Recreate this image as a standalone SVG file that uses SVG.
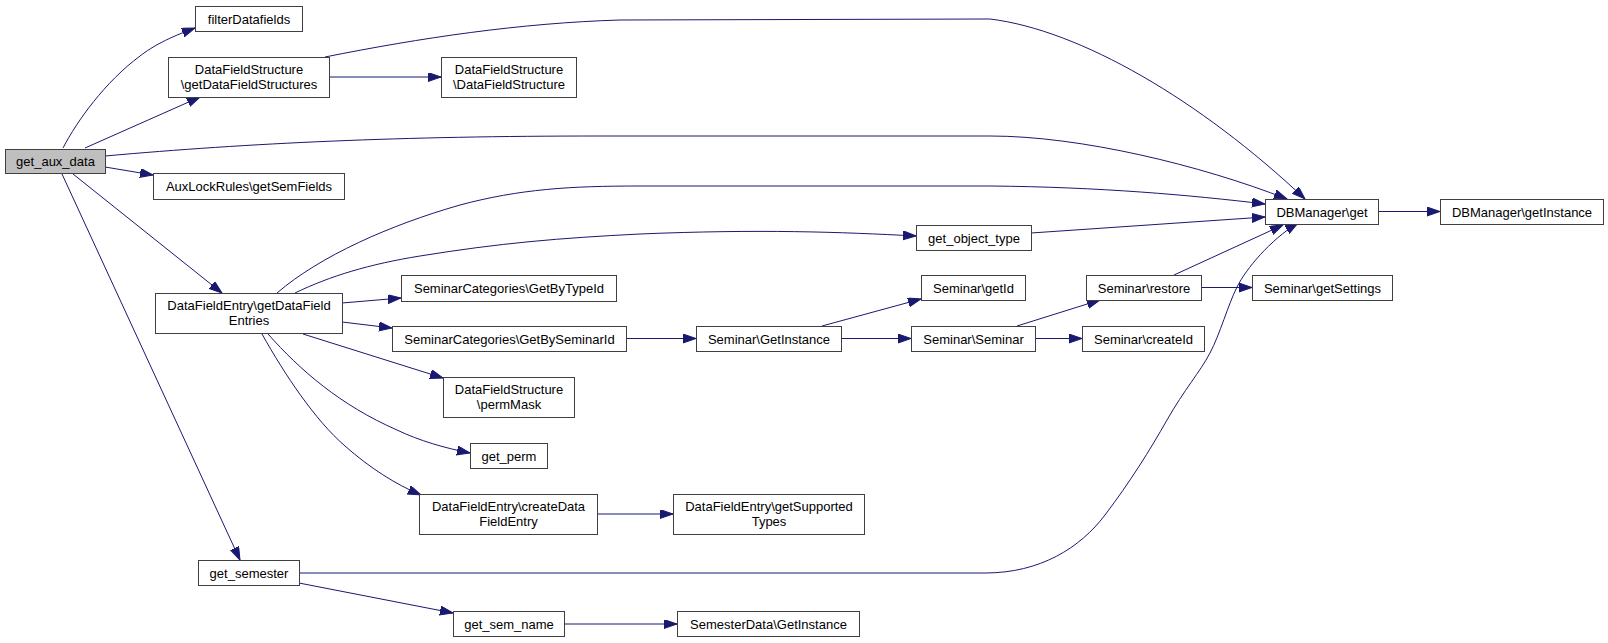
<svg xmlns="http://www.w3.org/2000/svg" width="1608" height="643" viewBox="0 0 1608 643">
<style>
.n rect{fill:#ffffff;stroke:#404040;stroke-width:1}
.n.root rect{fill:#bfbfbf}
.n text{font-family:"Liberation Sans",Arial,sans-serif;font-size:13px;fill:#000000;text-anchor:middle}
.e path{fill:none;stroke:#191970;stroke-width:1;marker-end:url(#arr)}
</style>
<defs>
<marker id="arr" markerUnits="userSpaceOnUse" markerWidth="14" markerHeight="10" refX="13" refY="4.5" orient="auto">
<path d="M0,0 L13,4.5 L0,9 z" fill="#191970" stroke="#191970" stroke-width="1"/>
</marker>
</defs>
<rect width="1608" height="643" fill="#ffffff"/>
<g id="edges" class="e">
<path d="M63,148 C77,121 105,82 140,56 C153,46 168,38 195,28"/>
<path d="M85,148 L200,97"/>
<path d="M329,77 L441,77"/>
<path d="M325,57 C420,38 520,23 620,20 L990,19 C1080,30 1200,100 1305,199"/>
<path d="M105,156 C250,143 400,136 600,136 L990,136 C1080,136 1200,165 1287,199"/>
<path d="M105,167 L153,175"/>
<path d="M73,174 L222,293"/>
<path d="M62,174 L240,560"/>
<path d="M277,293 C320,256 390,225 460,205 C520,189 570,186 640,186 L990,186 C1100,187 1190,195 1265,204"/>
<path d="M295,293 C330,276 370,264 420,256 C500,243 560,238 640,234 C760,229 840,232 916,236"/>
<path d="M1031,233 L1265,217"/>
<path d="M342,303 L401,298"/>
<path d="M342,322 L392,328"/>
<path d="M303,334 L443,378"/>
<path d="M268,334 C300,370 340,405 397,430 C420,441 445,448 470,453"/>
<path d="M262,334 C285,375 315,420 345,446 C370,468 395,484 421,495"/>
<path d="M597,514 L673,514"/>
<path d="M626,338.5 L696,338.5"/>
<path d="M822,326 L921,299"/>
<path d="M841,338.5 L911,338.5"/>
<path d="M1017,326 L1100,300"/>
<path d="M1035,338.5 L1082,338.5"/>
<path d="M1174,275 L1283,225"/>
<path d="M1201,287.5 L1252,287.5"/>
<path d="M1378,211.5 L1440,211.5"/>
<path d="M299,573 L985,573 C1040,573 1080,548 1105,515 C1130,482 1150,450 1167,420 C1184,390 1200,372 1210,353 C1220,334 1228,305 1237,287 C1246,269 1270,240 1298,223"/>
<path d="M299,583 L453,613"/>
<path d="M564,624 L677,624"/>
</g>
<g id="get_aux_data" class="n root"><rect x="5.5" y="149.5" width="100" height="24"/><text x="55.5" y="166">get_aux_data</text></g>
<g id="filterDatafields" class="n"><rect x="195.5" y="6.5" width="107" height="25"/><text x="249" y="23.5">filterDatafields</text></g>
<g id="getDataFieldStructures" class="n"><rect x="168.5" y="57.5" width="161" height="40"/><text x="249" y="74">DataFieldStructure</text><text x="249" y="88.5">\getDataFieldStructures</text></g>
<g id="DataFieldStructure" class="n"><rect x="441.5" y="57.5" width="135" height="40"/><text x="509" y="74">DataFieldStructure</text><text x="509" y="88.5">\DataFieldStructure</text></g>
<g id="getSemFields" class="n"><rect x="153.5" y="173.5" width="191" height="26"/><text x="249" y="191">AuxLockRules\getSemFields</text></g>
<g id="DBManager_get" class="n"><rect x="1265.5" y="199.5" width="113" height="25"/><text x="1322" y="216.5">DBManager\get</text></g>
<g id="DBManager_getInstance" class="n"><rect x="1440.5" y="199.5" width="163" height="25"/><text x="1522" y="216.5">DBManager\getInstance</text></g>
<g id="get_object_type" class="n"><rect x="916.5" y="225.5" width="115" height="25"/><text x="974" y="242.5">get_object_type</text></g>
<g id="getDataFieldEntries" class="n"><rect x="155.5" y="293.5" width="187" height="40"/><text x="249" y="310">DataFieldEntry\getDataField</text><text x="249" y="324.5">Entries</text></g>
<g id="GetByTypeId" class="n"><rect x="401.5" y="275.5" width="215" height="26"/><text x="509" y="293">SeminarCategories\GetByTypeId</text></g>
<g id="GetBySeminarId" class="n"><rect x="392.5" y="326.5" width="234" height="25"/><text x="509.5" y="343.5">SeminarCategories\GetBySeminarId</text></g>
<g id="permMask" class="n"><rect x="443.5" y="377.5" width="131" height="40"/><text x="509" y="394">DataFieldStructure</text><text x="509" y="408.5">\permMask</text></g>
<g id="get_perm" class="n"><rect x="470.5" y="443.5" width="77" height="25"/><text x="509" y="460.5">get_perm</text></g>
<g id="createDataFieldEntry" class="n"><rect x="419.5" y="494.5" width="178" height="40"/><text x="508.5" y="511">DataFieldEntry\createData</text><text x="508.5" y="525.5">FieldEntry</text></g>
<g id="getSupportedTypes" class="n"><rect x="673.5" y="494.5" width="191" height="40"/><text x="769" y="511">DataFieldEntry\getSupported</text><text x="769" y="525.5">Types</text></g>
<g id="get_semester" class="n"><rect x="198.5" y="560.5" width="101" height="25"/><text x="249" y="577.5">get_semester</text></g>
<g id="get_sem_name" class="n"><rect x="453.5" y="611.5" width="111" height="25"/><text x="509" y="628.5">get_sem_name</text></g>
<g id="SemesterData_GetInstance" class="n"><rect x="677.5" y="611.5" width="182" height="25"/><text x="768.5" y="628.5">SemesterData\GetInstance</text></g>
<g id="Seminar_GetInstance" class="n"><rect x="696.5" y="326.5" width="145" height="25"/><text x="769" y="343.5">Seminar\GetInstance</text></g>
<g id="Seminar_getId" class="n"><rect x="921.5" y="275.5" width="104" height="25"/><text x="973.5" y="292.5">Seminar\getId</text></g>
<g id="Seminar_Seminar" class="n"><rect x="911.5" y="326.5" width="124" height="25"/><text x="973.5" y="343.5">Seminar\Seminar</text></g>
<g id="Seminar_restore" class="n"><rect x="1086.5" y="275.5" width="115" height="25"/><text x="1144" y="292.5">Seminar\restore</text></g>
<g id="Seminar_createId" class="n"><rect x="1082.5" y="326.5" width="122" height="25"/><text x="1143.5" y="343.5">Seminar\createId</text></g>
<g id="Seminar_getSettings" class="n"><rect x="1252.5" y="275.5" width="140" height="25"/><text x="1322.5" y="292.5">Seminar\getSettings</text></g>
</svg>
